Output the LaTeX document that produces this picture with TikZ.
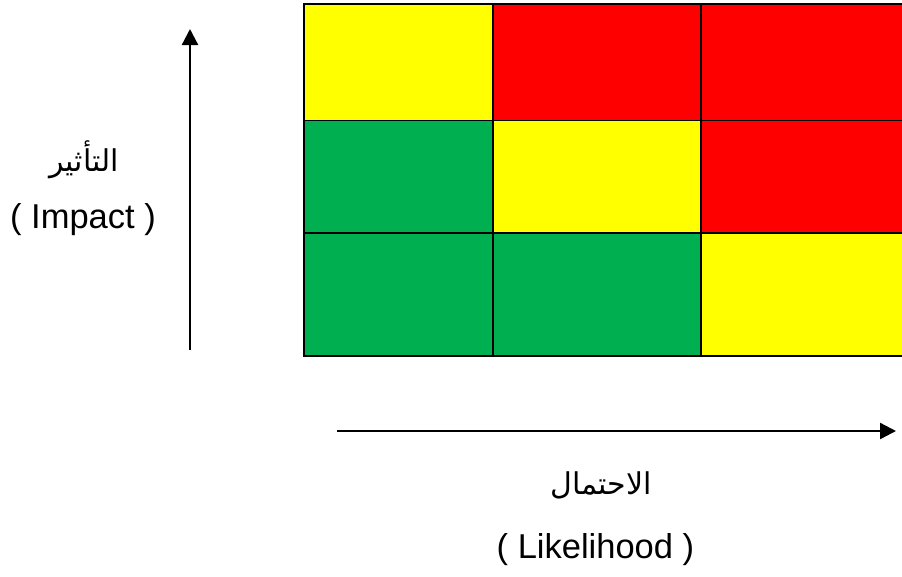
\documentclass[tikz,border=0pt]{standalone}
\usepackage{fontspec}
\setmainfont{Liberation Sans}
\newfontfamily\arabicfont[Script=Arabic]{DejaVu Sans}
\TeXXeTstate=1
\usetikzlibrary{arrows.meta}
\definecolor{cyel}{HTML}{FFFF00}
\definecolor{cred}{HTML}{FF0000}
\definecolor{cgrn}{HTML}{00B050}
\tikzset{
  cell/.style={draw=black, line width=1.7pt},
  axis/.style={line width=2.3pt, -{Triangle[length=16pt,width=16pt]}},
  lbl/.style={font=\fontsize{34.5}{40}\selectfont, inner sep=0pt, anchor=base},
  albl/.style={font=\arabicfont\fontsize{30}{36}\selectfont, inner sep=0pt}
}
\begin{document}
\begin{tikzpicture}[x=1pt,y=-1pt]
\useasboundingbox (0,0) rectangle (902,576);
\clip (0,0) rectangle (902,576);
% grid cells
\def\xa{304}\def\xb{492.7}\def\xc{700.7}\def\xd{912}
\def\ya{4}\def\yb{120.5}\def\yc{232.7}\def\yd{355.7}
\filldraw[cell, fill=cyel] (\xa,\ya) rectangle (\xb,\yb);
\filldraw[cell, fill=cred] (\xb,\ya) rectangle (\xc,\yb);
\filldraw[cell, fill=cred] (\xc,\ya) rectangle (\xd,\yb);
\filldraw[cell, fill=cgrn] (\xa,\yb) rectangle (\xb,\yc);
\filldraw[cell, fill=cyel] (\xb,\yb) rectangle (\xc,\yc);
\filldraw[cell, fill=cred] (\xc,\yb) rectangle (\xd,\yc);
\filldraw[cell, fill=cgrn] (\xa,\yc) rectangle (\xb,\yd);
\filldraw[cell, fill=cgrn] (\xb,\yc) rectangle (\xc,\yd);
\filldraw[cell, fill=cyel] (\xc,\yc) rectangle (\xd,\yd);
% axes
\coordinate (vs) at (190,350);
\coordinate (ve) at (190,29);
\coordinate (hs) at (337,431);
\coordinate (he) at (896,431);
\draw[axis] (vs) -- (ve);
\draw[axis] (hs) -- (he);
% labels
\node[albl] (ia) at (84,160) {\beginR التأثير\endR};
\node[lbl] (il) at (83,228) {( Impact )};
\node[albl] (la) at (601,485) {\beginR الاحتمال\endR};
\node[lbl] (ll) at (595.5,558) {( Likelihood )};
\end{tikzpicture}
\end{document}
